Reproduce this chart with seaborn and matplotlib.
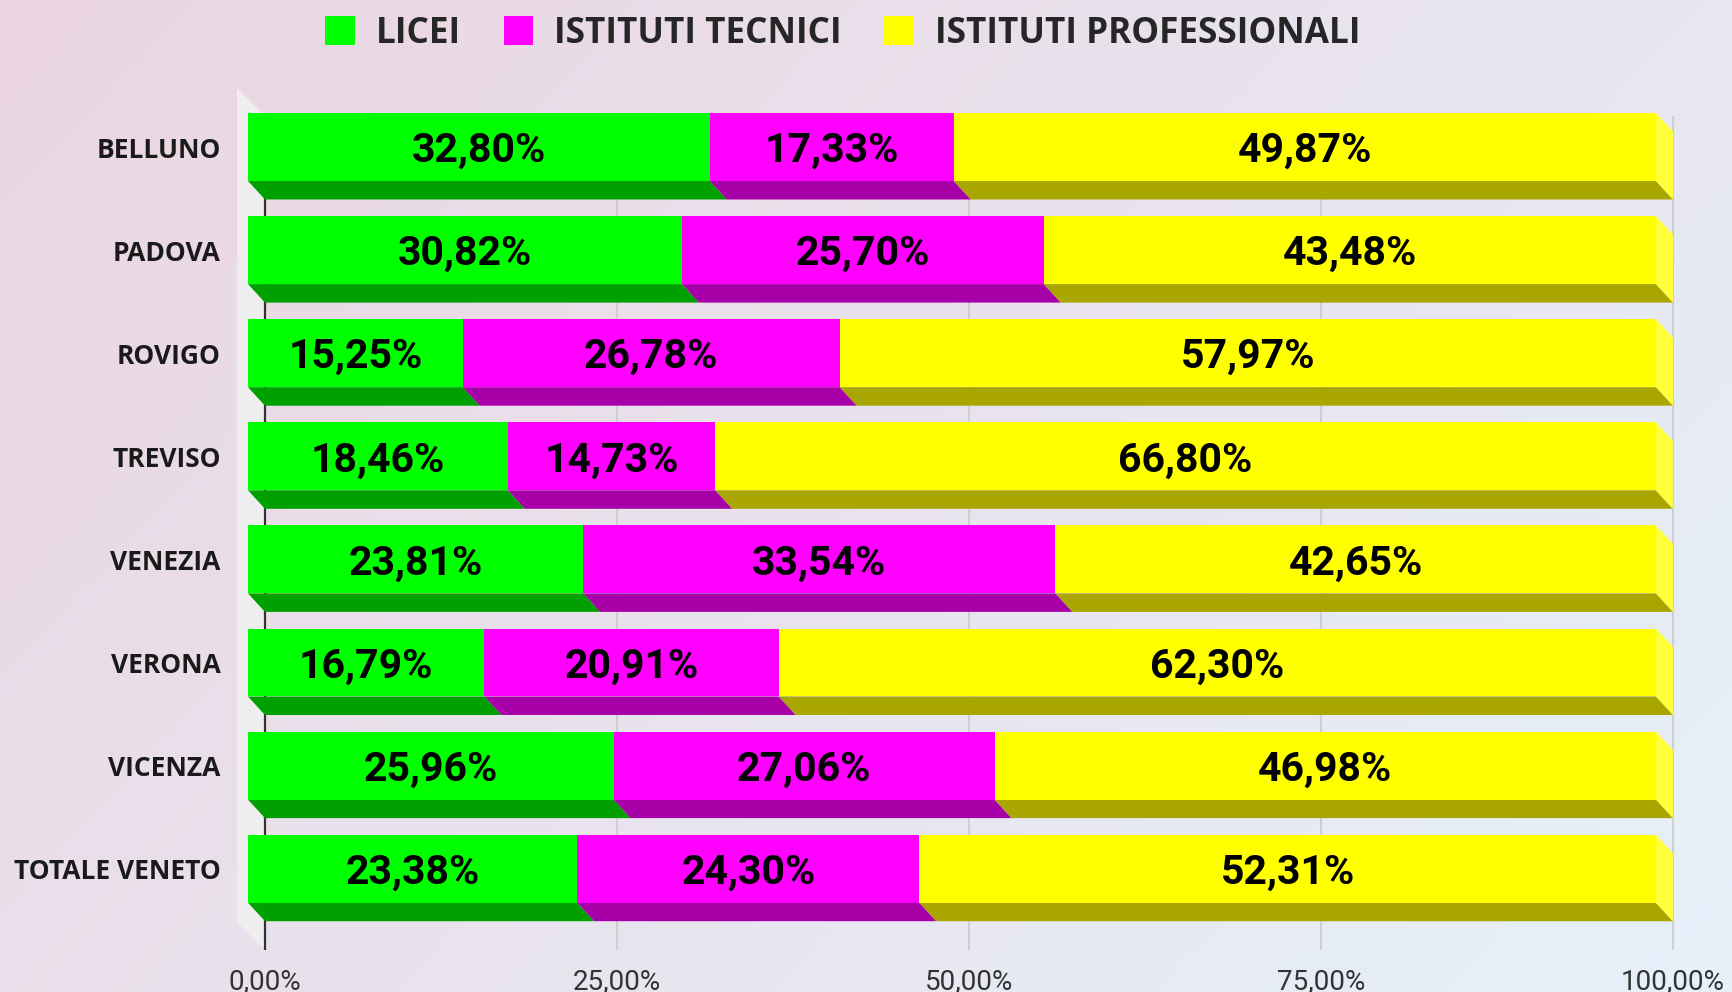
import numpy as np
import matplotlib
matplotlib.use('Agg')
import matplotlib.pyplot as plt
import matplotlib.transforms as mtransforms
from matplotlib.colors import to_rgb
from matplotlib.patches import Patch
import seaborn as sns

# data (percentages per province)
provinces = ['BELLUNO', 'PADOVA', 'ROVIGO', 'TREVISO', 'VENEZIA', 'VERONA', 'VICENZA', 'TOTALE VENETO']
licei = [32.80, 30.82, 15.25, 18.46, 23.81, 16.79, 25.96, 23.38]
tecnici = [17.33, 25.70, 26.78, 14.73, 33.54, 20.91, 27.06, 24.30]
professionali = [49.87, 43.48, 57.97, 66.80, 42.65, 62.30, 46.98, 52.31]
series_names = ['LICEI', 'ISTITUTI TECNICI', 'ISTITUTI PROFESSIONALI']
xticks = [0, 25, 50, 75, 100]
xtick_labels = ['0,00%', '25,00%', '50,00%', '75,00%', '100,00%']

# styling
front_colors = ['#00FF00', '#FF00FF', '#FFFF00']
bottom_colors = ['#00A000', '#A800A8', '#AAA600']
side_color = '#FFFF3A'
wall_color = '#EEEEEE'
grid_color = '#CFCFCF'

sns.set_theme(style='white')
plt.rcParams['font.family'] = ['Roboto', 'DejaVu Sans']

W, H = 1732, 992
PX_X = 14.08      # pixels per 1%
PX_Y = 103.1      # pixels per category step
X0_PX = 265       # pixel of 0%
Y0_PX = 165.5     # pixel of first category (back plane)
ax_left_px, ax_right_px = X0_PX - 2 * PX_X, X0_PX + 100.5 * PX_X
ax_top_px, ax_bot_px = 88, 950

DX = 17 / PX_X    # depth offset of the bars (data units)
DY = 18.5 / PX_Y
BAR_H = 68 / PX_Y
WALL_DX = 28 / PX_X
WALL_DY = 28 / PX_Y

fig = plt.figure(figsize=(W / 100, H / 100), dpi=100)

# background gradient
bg = fig.add_axes([0, 0, 1, 1], zorder=-10)
xx, yy = np.meshgrid(np.linspace(0, 1, 400), np.linspace(0, 1, 240))
t = np.clip(0.65 * xx + 0.35 * yy, 0, 1)[..., None]
c1 = np.array(to_rgb('#EBD5E1'))
c2 = np.array(to_rgb('#E6F1FA'))
bg.imshow(c1 * (1 - t) + c2 * t, aspect='auto', extent=[0, 1, 0, 1], origin='upper')
bg.axis('off')

ax = fig.add_axes([ax_left_px / W, 1 - ax_bot_px / H,
                   (ax_right_px - ax_left_px) / W, (ax_bot_px - ax_top_px) / H])
ax.patch.set_alpha(0)

y_top = (ax_top_px - Y0_PX) / PX_Y
y_bot = (ax_bot_px - Y0_PX) / PX_Y
y_back_top = y_top + WALL_DY

# left wall
ax.fill([-WALL_DX, 0, 0, -WALL_DX], [y_top, y_back_top, y_bot, y_bot - WALL_DY],
        color=wall_color, lw=0, zorder=0)
# gridlines and zero axis on the back plane
ax.vlines(xticks[1:], y_back_top, y_bot, color=grid_color, lw=1.5, zorder=0.5)
ax.vlines(0, y_back_top, y_bot, color='#333333', lw=1.6, zorder=0.6)

front = mtransforms.Affine2D().translate(-DX, -DY) + ax.transData

series = [np.array(licei), np.array(tecnici), np.array(professionali)]
cum = np.cumsum(series, axis=0)
lefts = cum - np.array(series)

# bottom and side faces
for k in range(3):
    for i in range(len(provinces)):
        a, b = lefts[k][i], cum[k][i]
        yb = i + BAR_H / 2
        ax.fill([a - DX, b - DX, b, a], [yb - DY, yb - DY, yb, yb],
                color=bottom_colors[k], lw=0, zorder=1)
for i in range(len(provinces)):
    b = cum[2][i]
    ax.fill([b - DX, b, b, b - DX],
            [i - BAR_H / 2 - DY, i - BAR_H / 2, i + BAR_H / 2, i + BAR_H / 2 - DY],
            color=side_color, lw=0, zorder=1)

# front faces, drawn as cumulative bars (largest first)
for k in [2, 1, 0]:
    sns.barplot(x=cum[k], y=provinces, orient='h', color=front_colors[k], saturation=1,
                width=BAR_H, linewidth=0, transform=front, zorder=2, ax=ax)

for k in range(3):
    for i in range(len(provinces)):
        v = series[k][i]
        ax.text((lefts[k][i] + cum[k][i]) / 2 - DX, i - DY, f'{v:.2f}'.replace('.', ',') + '%',
                ha='center', va='center_baseline', fontsize=29.5, fontweight='bold',
                color='black', zorder=3)

ax.set_xlim(-2, 100.5)
ax.set_ylim(y_bot, y_top)
ax.set_xticks(xticks)
ax.set_xticklabels(xtick_labels, fontsize=20, color='#333333')
ax.set_yticks(np.arange(len(provinces)) - DY)
ax.set_yticklabels(provinces, fontsize=19, color='#1A1A1A', family='Open Sans', fontweight='bold')
ax.tick_params(axis='x', length=0, pad=13)
ax.tick_params(axis='y', length=0, pad=11.5)
ax.set_xlabel('')
ax.set_ylabel('')
for s in ax.spines.values():
    s.set_visible(False)
ax.grid(False)

handles = [Patch(facecolor=c, edgecolor='none') for c in front_colors]
fig.legend(handles, series_names, loc='center', bbox_to_anchor=(843 / W, 1 - 34 / H), ncol=3,
           frameon=False, prop={'family': 'Open Sans', 'weight': 'bold', 'size': 25.3},
           handlelength=0.85, handleheight=0.9, handletextpad=0.6, columnspacing=1.2)

fig.savefig('out.png', dpi=100)
